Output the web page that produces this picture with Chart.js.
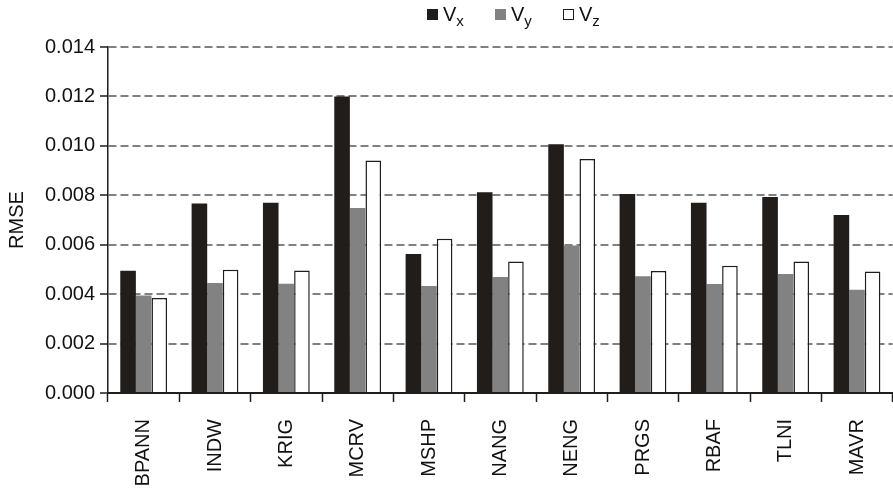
<!DOCTYPE html>
<html>
<head>
<meta charset="utf-8">
<script src="https://cdn.jsdelivr.net/npm/chart.js@4/dist/chart.umd.min.js"></script>
<style>
  html, body { margin: 0; padding: 0; background: #fff; overflow: hidden; }
  #wrap { position: relative; width: 898px; height: 489px; }
  #legend { position: absolute; top: 0; left: 0; font-family: "Liberation Sans", Arial, sans-serif; color: #111; }
  #legend .item { position: absolute; top: 3px; white-space: nowrap; font-size: 20px; line-height: 22px; }
  #legend .box { display: inline-block; width: 11px; height: 11px; margin-right: 5px; box-sizing: border-box; vertical-align: 1px; }
  #legend sub { font-size: 15px; vertical-align: -5px; line-height: 0; }
</style>
</head>
<body>
<div id="wrap">
  <canvas id="myChart" width="898" height="489"></canvas>
  <div id="legend"></div>
</div>
<script>
const methods = ["BPANN", "INDW", "KRIG", "MCRV", "MSHP", "NANG", "NENG", "PRGS", "RBAF", "TLNI", "MAVR"];
const seriesNames = ["Vx", "Vy", "Vz"];
const vx = [0.00495, 0.00767, 0.0077, 0.0120, 0.00562, 0.00812, 0.01007, 0.00805, 0.0077, 0.00793, 0.0072];
const vy = [0.00395, 0.00445, 0.00442, 0.00749, 0.00433, 0.00469, 0.00597, 0.00472, 0.00441, 0.00481, 0.00418];
const vz = [0.00384, 0.00499, 0.00496, 0.00941, 0.00624, 0.00532, 0.00947, 0.00494, 0.00515, 0.00532, 0.00492];
const yTicks = [0, 0.002, 0.004, 0.006, 0.008, 0.010, 0.012, 0.014];

const dark = "#211d1a";
const font = "'Liberation Sans', Arial, sans-serif";

function makeLegend(chart) {
    const legend = document.getElementById("legend");
    legend.innerHTML = "";
    const lefts = [427, 495, 563];
    chart.data.datasets.forEach((ds, i) => {
        const item = document.createElement("div");
        item.className = "item";
        item.style.left = lefts[i] + "px";
        const box = document.createElement("span");
        box.className = "box";
        box.style.background = ds.backgroundColor;
        if (ds.borderWidth) box.style.border = "1.5px solid " + ds.borderColor;
        item.appendChild(box);
        item.appendChild(document.createTextNode(ds.label.charAt(0)));
        const sub = document.createElement("sub");
        sub.textContent = ds.label.slice(1);
        item.appendChild(sub);
        legend.appendChild(item);
    });
}

const canvas = document.getElementById("myChart");
const myChart = new Chart(canvas, {
    type: "bar",
    data: {
        labels: methods,
        datasets: [
            { label: seriesNames[0], data: vx, backgroundColor: dark, borderWidth: 0 },
            { label: seriesNames[1], data: vy, backgroundColor: "#828282", borderWidth: 0 },
            { label: seriesNames[2], data: vz, backgroundColor: "#ffffff", borderColor: dark, borderWidth: 1.5 }
        ]
    },
    options: {
        responsive: false,
        animation: false,
        layout: { padding: { top: 47, right: 0, left: 0, bottom: 0 } },
        datasets: { bar: { categoryPercentage: 0.656, barPercentage: 1.0 } },
        plugins: { legend: { display: false }, tooltip: { enabled: false } },
        scales: {
            x: {
                afterFit: s => { s.height = 96; },
                grid: { offset: true, drawOnChartArea: false, tickLength: 9, tickColor: dark, tickWidth: 1.5 },
                border: { color: dark, width: 2 },
                ticks: { color: "#111", font: { family: font, size: 20 }, minRotation: 90, maxRotation: 90, padding: 17 }
            },
            y: {
                min: 0,
                max: 0.014,
                afterFit: s => { s.width = 108; },
                afterBuildTicks: s => { s.ticks = yTicks.map(v => ({ value: v })); },
                grid: { color: "#808080", lineWidth: 2, tickLength: 8, tickColor: dark, tickWidth: 1.5 },
                border: { color: dark, width: 1.5, dash: [8, 4] },
                ticks: {
                    color: "#111", font: { family: font, size: 20 }, padding: 5,
                    callback: v => v.toFixed(3)
                },
                title: { display: true, text: "RMSE", color: "#111", font: { family: font, size: 20 }, padding: { top: 5, bottom: 0 } }
            }
        }
    }
});
makeLegend(myChart);
</script>
</body>
</html>
